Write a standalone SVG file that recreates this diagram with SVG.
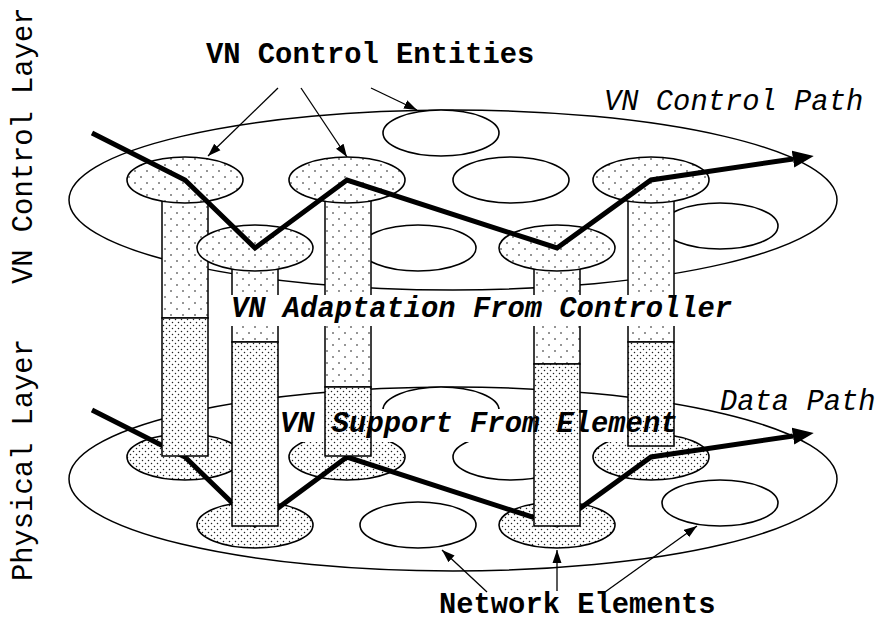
<svg xmlns="http://www.w3.org/2000/svg" width="880" height="622" viewBox="0 0 880 622">
  <defs>
    <!-- sparse stipple for control-layer entities -->
    <pattern id="dotsLight" width="12" height="12" patternUnits="userSpaceOnUse">
      <rect width="12" height="12" fill="#fff"/>
      <circle cx="3" cy="3" r="0.8" fill="#111"/>
      <circle cx="9" cy="9" r="0.8" fill="#111"/>
    </pattern>
    <!-- dense stipple for element support -->
    <pattern id="dotsDense" width="6" height="6" patternUnits="userSpaceOnUse">
      <rect width="6" height="6" fill="#fff"/>
      <circle cx="1.5" cy="1.5" r="0.75" fill="#222"/>
      <circle cx="4.5" cy="4.5" r="0.75" fill="#222"/>
    </pattern>
    <marker id="bigTip" markerUnits="userSpaceOnUse" markerWidth="22" markerHeight="18" viewBox="0 -9 22 18" refX="0" refY="0" orient="auto">
      <path d="M0,-8.5 L21,0 L0,8.5 Z" fill="#000"/>
    </marker>
    <marker id="tip" markerUnits="userSpaceOnUse" markerWidth="14" markerHeight="10" viewBox="0 -5 14 10" refX="13" refY="0" orient="auto">
      <path d="M0,-4.5 L13,0 L0,4.5 Z" fill="#000"/>
    </marker>
  </defs>
  <style>
    .plane{fill:#fff;stroke:#000;stroke-width:1.5}
    .ne{stroke:#000;stroke-width:1.6}
    .plain{fill:#fff}
    .lite{fill:url(#dotsLight)}
    .dense{fill:url(#dotsDense)}
    .col{stroke:#000;stroke-width:1.5}
    .route{fill:none;stroke:#000;stroke-width:5;stroke-linejoin:miter}
    .lead{fill:none;stroke:#000;stroke-width:1.3;marker-end:url(#tip)}
    .mask{fill:#fff}
    text{font-family:"Liberation Mono","DejaVu Sans Mono",monospace;font-size:28.8px;fill:#000}
    .b{font-weight:bold}
    .i{font-style:italic}
  </style>

  <!-- physical layer plane -->
  <g id="physical-layer">
    <ellipse class="plane" cx="453" cy="479" rx="384" ry="92"/>
    <ellipse class="ne plain" cx="441" cy="410" rx="58" ry="23"/>
    <ellipse class="ne plain" cx="511" cy="457" rx="58" ry="23"/>
    <ellipse class="ne plain" cx="418" cy="525" rx="58" ry="23"/>
    <ellipse class="ne plain" cx="720" cy="503" rx="58" ry="23"/>
    <ellipse class="ne dense" cx="185" cy="457" rx="58" ry="23"/>
    <ellipse class="ne dense" cx="347" cy="457" rx="58" ry="23"/>
    <ellipse class="ne dense" cx="651" cy="457" rx="58" ry="23"/>
    <ellipse class="ne dense" cx="255" cy="525" rx="58" ry="23"/>
    <ellipse class="ne dense" cx="557" cy="525" rx="58" ry="23"/>
  </g>

  <g id="connectors-data">
    <polyline class="route" points="92,410 185,457 255,525 347,457 557,525 651,457 793,436" marker-end="url(#bigTip)"/>
  </g>

  <!-- support box for the lower label -->
  <rect class="mask" x="279" y="409" width="348" height="33"/>

  <!-- control layer plane -->
  <g id="control-layer">
    <ellipse class="plane" cx="453" cy="200" rx="384" ry="90"/>
    <ellipse class="ne plain" cx="441" cy="133" rx="58" ry="23"/>
    <ellipse class="ne plain" cx="511" cy="180" rx="58" ry="23"/>
    <ellipse class="ne plain" cx="418" cy="248" rx="58" ry="23"/>
    <ellipse class="ne plain" cx="720" cy="226" rx="58" ry="23"/>
  </g>

  <!-- adaptation columns: controller part on top, element support below -->
  <g id="columns">
    <g id="col-a">
      <rect class="col lite" x="162" y="180" width="46" height="138"/>
      <rect class="col dense" x="162" y="318" width="46" height="138"/>
    </g>
    <g id="col-b">
      <rect class="col lite" x="232" y="248" width="46" height="94"/>
      <rect class="col dense" x="232" y="342" width="46" height="184"/>
    </g>
    <g id="col-c">
      <rect class="col lite" x="325" y="180" width="46" height="207"/>
      <rect class="col dense" x="325" y="387" width="46" height="69"/>
    </g>
    <g id="col-d">
      <rect class="col lite" x="534" y="248" width="46" height="116"/>
      <rect class="col dense" x="534" y="364" width="46" height="162"/>
    </g>
    <g id="col-e">
      <rect class="col lite" x="628" y="180" width="46" height="162"/>
      <rect class="col dense" x="628" y="342" width="46" height="104"/>
    </g>
  </g>

  <!-- control entities -->
  <g id="control-entities">
    <ellipse class="ne lite" cx="185" cy="180" rx="58" ry="23"/>
    <ellipse class="ne lite" cx="347" cy="180" rx="58" ry="23"/>
    <ellipse class="ne lite" cx="651" cy="180" rx="58" ry="23"/>
    <ellipse class="ne lite" cx="255" cy="248" rx="58" ry="23"/>
    <ellipse class="ne lite" cx="557" cy="248" rx="58" ry="23"/>
  </g>

  <g id="connectors-control">
    <polyline class="route" points="92,133 185,180 255,248 347,180 557,248 651,180 793,159" marker-end="url(#bigTip)"/>
  </g>

  <g id="leaders">
    <line class="lead" x1="278" y1="88" x2="208" y2="156"/>
    <line class="lead" x1="301" y1="88" x2="347" y2="157"/>
    <line class="lead" x1="371" y1="88" x2="417" y2="110"/>
    <line class="lead" x1="487" y1="592" x2="442" y2="550"/>
    <line class="lead" x1="557" y1="591" x2="557" y2="550"/>
    <line class="lead" x1="605" y1="592" x2="697" y2="526"/>
  </g>

  <g id="labels">
    <rect class="mask" x="230" y="295" width="510" height="31"/>
    <text class="b i" x="231" y="317">VN Adaptation From Controller</text>
    <text class="b i" x="280" y="432">VN Support From Element</text>
    <text class="b" x="206" y="63">VN Control Entities</text>
    <text class="i" x="604" y="110">VN Control Path</text>
    <text class="i" x="720" y="410">Data Path</text>
    <text class="b" x="439" y="613">Network Elements</text>
    <text transform="translate(32,284) rotate(-90)">VN Control Layer</text>
    <text transform="translate(32,581) rotate(-90)">Physical Layer</text>
  </g>
</svg>
